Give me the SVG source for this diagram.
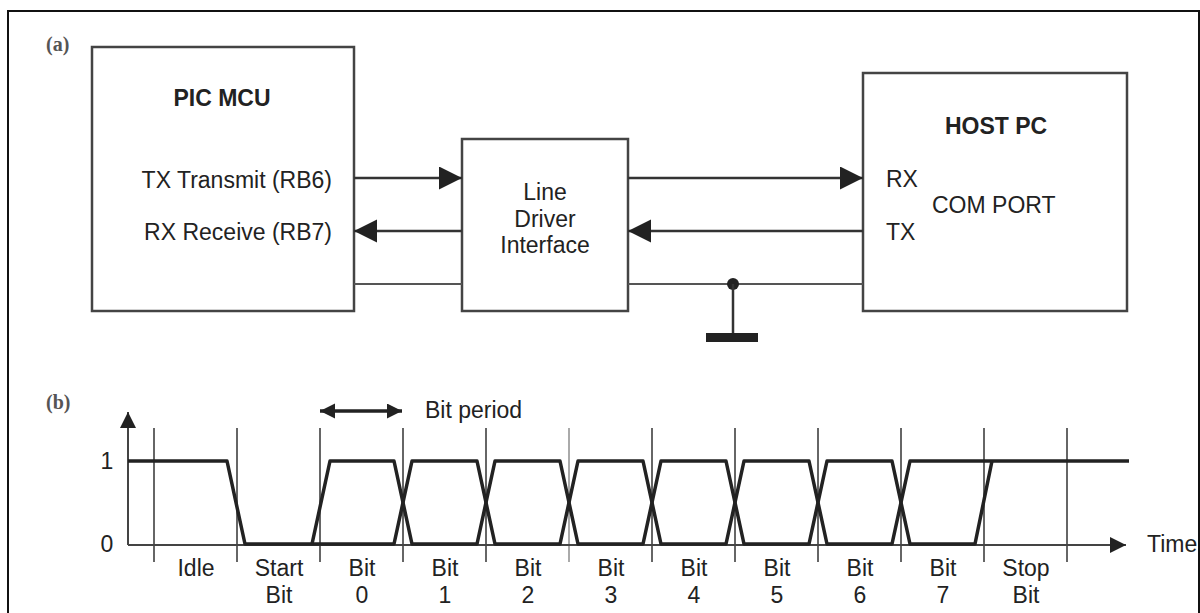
<svg xmlns="http://www.w3.org/2000/svg" width="1200" height="613" viewBox="0 0 1200 613">
<defs>
<style>
.t{font-family:"Liberation Sans",Arial,sans-serif;font-size:23px;fill:#222}
.b{font-weight:bold}
.lbl{font-family:"Liberation Serif","Times New Roman",serif;font-size:20px;font-weight:bold;fill:#555}
.box{fill:#fff;stroke:#444;stroke-width:2.5}
.wire{stroke:#333;stroke-width:2.5;fill:none}
.gnd{stroke:#555;stroke-width:2;fill:none}
.grid{stroke:#666;stroke-width:2}
.wave{stroke:#222;stroke-width:3.5;fill:none;stroke-linejoin:round}
.axis{stroke:#444;stroke-width:2;fill:none}
</style>
<marker id="ah" markerUnits="userSpaceOnUse" markerWidth="24" markerHeight="24" refX="23" refY="11.5" orient="auto">
<path d="M0,0 L23,11.5 L0,23 z" fill="#222"/>
</marker>
<marker id="sa" markerUnits="userSpaceOnUse" markerWidth="16" markerHeight="16" refX="15" refY="7.5" orient="auto-start-reverse">
<path d="M0,0 L15,7.5 L0,15 z" fill="#222"/>
</marker>
<marker id="ax" markerUnits="userSpaceOnUse" markerWidth="17" markerHeight="17" refX="16" refY="8" orient="auto">
<path d="M0,0 L16,8 L0,16 z" fill="#222"/>
</marker>
</defs>
<rect x="8" y="11" width="1191" height="620" fill="#fff" stroke="#111" stroke-width="2"/>
<text class="lbl" x="46" y="51">(a)</text>
<text class="lbl" x="46" y="409">(b)</text>

<g id="pic-mcu">
<rect class="box" x="92" y="47" width="262" height="264"/>
<text class="t b" x="222" y="106" text-anchor="middle">PIC MCU</text>
<text class="t" x="332" y="188" text-anchor="end">TX Transmit (RB6)</text>
<text class="t" x="332" y="240" text-anchor="end">RX Receive (RB7)</text>
</g>

<g id="line-driver">
<rect class="box" x="462" y="139" width="166" height="172"/>
<text class="t" x="545" y="200" text-anchor="middle">Line</text>
<text class="t" x="545" y="227" text-anchor="middle">Driver</text>
<text class="t" x="545" y="253" text-anchor="middle">Interface</text>
</g>

<g id="host-pc">
<rect class="box" x="863" y="73" width="264" height="238"/>
<text class="t b" x="996" y="134" text-anchor="middle">HOST PC</text>
<text class="t" x="886" y="187">RX</text>
<text class="t" x="932" y="213">COM PORT</text>
<text class="t" x="886" y="240">TX</text>
</g>

<g id="connectors">
<line class="wire" x1="354" y1="178" x2="462" y2="178" marker-end="url(#ah)"/>
<line class="wire" x1="462" y1="231" x2="354" y2="231" marker-end="url(#ah)"/>
<line class="gnd" x1="354" y1="284" x2="462" y2="284"/>
<line class="wire" x1="628" y1="178" x2="863" y2="178" marker-end="url(#ah)"/>
<line class="wire" x1="863" y1="231" x2="628" y2="231" marker-end="url(#ah)"/>
<line class="gnd" x1="628" y1="284" x2="863" y2="284"/>
<circle cx="733" cy="284" r="6" fill="#222"/>
<line class="wire" x1="733" y1="284" x2="733" y2="334"/>
<rect x="706" y="333" width="52" height="9" fill="#222"/>
</g>

<g id="timing">
<g class="grid">
<line x1="154" y1="428" x2="154" y2="562"/>
<line x1="237" y1="428" x2="237" y2="562"/>
<line x1="320" y1="428" x2="320" y2="562"/>
<line x1="403" y1="428" x2="403" y2="562"/>
<line x1="486" y1="428" x2="486" y2="562"/>
<line x1="569" y1="428" x2="569" y2="562" stroke="#aaa"/>
<line x1="652" y1="428" x2="652" y2="562"/>
<line x1="735" y1="428" x2="735" y2="562"/>
<line x1="818" y1="428" x2="818" y2="562"/>
<line x1="901" y1="428" x2="901" y2="562"/>
<line x1="984" y1="428" x2="984" y2="562"/>
<line x1="1067" y1="428" x2="1067" y2="562"/>
</g>
<line class="axis" x1="128" y1="545" x2="128" y2="412" marker-end="url(#ax)"/>
<line class="axis" x1="128" y1="545" x2="1126" y2="545" marker-end="url(#ax)"/>
<path class="wave" d="M128,461 H227 L245,544 H394 L412,461 H477 L495,544 H560 L578,461 H643 L661,544 H726 L744,461 H809 L827,544 H892 L910,461 H1129"/>
<path class="wave" d="M312,544 L330,461 H394 L412,544 H477 L495,461 H560 L578,544 H643 L661,461 H726 L744,544 H809 L827,461 H892 L910,544 H975 L992,461"/>
<line class="wave" x1="320" y1="411" x2="402" y2="411" stroke-width="2.5" marker-start="url(#sa)" marker-end="url(#sa)"/>
<text class="t" x="425" y="418" font-size="20">Bit period</text>
<text class="t" x="107" y="469" text-anchor="middle">1</text>
<text class="t" x="107" y="552" text-anchor="middle">0</text>
<text class="t" x="1147" y="552">Time</text>
<g class="t" text-anchor="middle">
<text x="196" y="576">Idle</text>
<text x="279" y="576">Start</text><text x="279" y="603">Bit</text>
<text x="362" y="576">Bit</text><text x="362" y="603">0</text>
<text x="445" y="576">Bit</text><text x="445" y="603">1</text>
<text x="528" y="576">Bit</text><text x="528" y="603">2</text>
<text x="611" y="576">Bit</text><text x="611" y="603">3</text>
<text x="694" y="576">Bit</text><text x="694" y="603">4</text>
<text x="777" y="576">Bit</text><text x="777" y="603">5</text>
<text x="860" y="576">Bit</text><text x="860" y="603">6</text>
<text x="943" y="576">Bit</text><text x="943" y="603">7</text>
<text x="1026" y="576">Stop</text><text x="1026" y="603">Bit</text>
</g>
</g>
</svg>
